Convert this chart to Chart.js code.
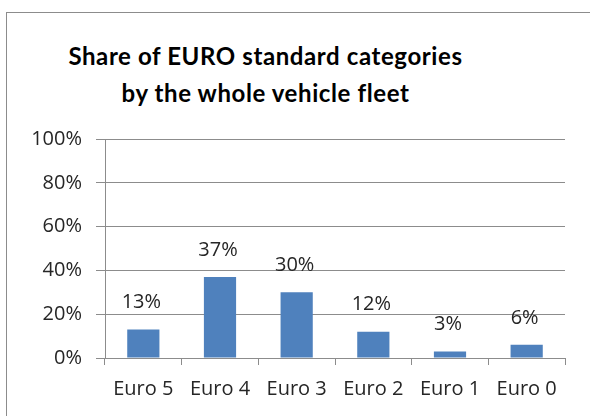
<!DOCTYPE html>
<html>
<head>
<meta charset="utf-8">
<script src="https://cdn.jsdelivr.net/npm/chart.js@4.4.1/dist/chart.umd.min.js"></script>
<style>
    body { margin: 0; background: #fff; }
    #wrap { position: relative; width: 590px; height: 416px; overflow: hidden; }
    #frame { position: absolute; left: 6px; top: 12px; width: 620px; height: 440px;
             border-left: 1px solid #8c8c8c; border-top: 1px solid #8c8c8c; }
    #title { position: absolute; left: 0; top: 37px; width: 531px; text-align: center;
             font: bold 24px Lato, sans-serif; letter-spacing: 0.6px; line-height: 37px; color: #000; }
    canvas { position: absolute; left: 0; top: 0; }
</style>
</head>
<body>
<div id="wrap">
    <div id="frame"></div>
    <div id="title">Share of EURO standard categories<br>by the whole vehicle fleet</div>
    <canvas id="fleet" width="590" height="416"></canvas>
</div>
<script>
// EURO categories and their share of the fleet (%)
const categories = ['Euro 5', 'Euro 4', 'Euro 3', 'Euro 2', 'Euro 1', 'Euro 0'];
const shares = [13, 37, 30, 12, 3, 6];
const yTicks = [0, 20, 40, 60, 80, 100];

const FONT = '"Open Sans", sans-serif';
const TEXT = '#262626';

// value labels above each bar
const barLabels = {
    id: 'barLabels',
    afterDatasetsDraw(chart) {
        const ctx = chart.ctx;
        const meta = chart.getDatasetMeta(0);
        ctx.save();
        ctx.font = '20px ' + FONT;
        ctx.fillStyle = TEXT;
        ctx.textAlign = 'center';
        ctx.textBaseline = 'middle';
        meta.data.forEach((bar, i) => {
            ctx.fillText(shares[i] + '%', bar.x - 2, bar.y - 27);
        });
        ctx.restore();
    }
};

new Chart(document.getElementById('fleet'), {
    type: 'bar',
    data: {
        labels: categories,
        datasets: [{
            data: shares,
            backgroundColor: '#4f81bd',
            borderWidth: 0,
            categoryPercentage: 1,
            barPercentage: 0.42
        }]
    },
    options: {
        responsive: false,
        animation: false,
        layout: { padding: { top: 139, right: 25, left: 0, bottom: 0 } },
        plugins: {
            legend: { display: false },
            tooltip: { enabled: false }
        },
        scales: {
            x: {
                offset: true,
                grid: { offset: true, drawOnChartArea: false, color: '#8c8c8c', tickLength: 7 },
                border: { color: '#8c8c8c' },
                ticks: { font: { family: FONT, size: 20 }, color: TEXT, padding: 12 },
                afterFit: (s) => { s.height = 58; }
            },
            y: {
                min: 0,
                max: 100,
                afterBuildTicks: (s) => { s.ticks = yTicks.map(v => ({ value: v })); },
                grid: { color: '#8c8c8c', tickLength: 9 },
                border: { color: '#8c8c8c' },
                ticks: { font: { family: FONT, size: 20 }, color: TEXT, padding: 14,
                         callback: (v) => v + '%' },
                afterFit: (s) => { s.width = 105; }
            }
        }
    },
    plugins: [barLabels]
});
</script>
</body>
</html>
